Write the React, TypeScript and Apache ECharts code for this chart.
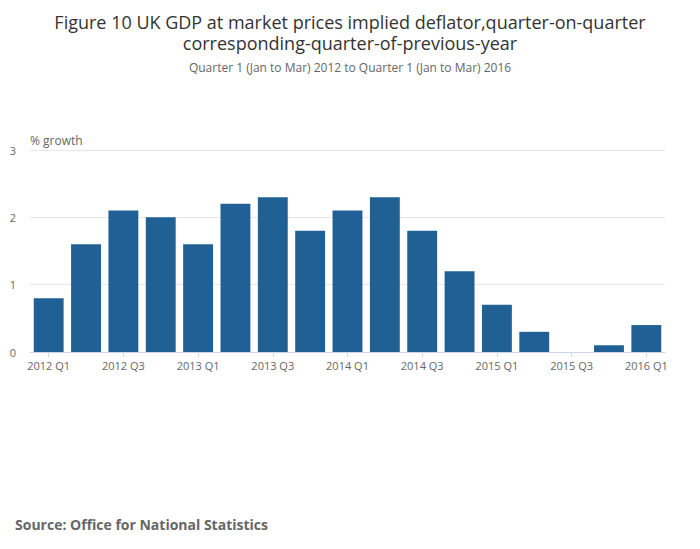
import React, { useEffect, useRef } from "react";
import * as echarts from "echarts";

const categories = [
  "2012 Q1", "2012 Q2", "2012 Q3", "2012 Q4",
  "2013 Q1", "2013 Q2", "2013 Q3", "2013 Q4",
  "2014 Q1", "2014 Q2", "2014 Q3", "2014 Q4",
  "2015 Q1", "2015 Q2", "2015 Q3", "2015 Q4",
  "2016 Q1",
];
const values = [0.8, 1.6, 2.1, 2.0, 1.6, 2.2, 2.3, 1.8, 2.1, 2.3, 1.8, 1.2, 0.7, 0.3, 0, 0.1, 0.4];

const FONT = "'Open Sans', sans-serif";

export default function App() {
  const ref = useRef<HTMLDivElement>(null);

  useEffect(() => {
    if (!ref.current) return;
    const chart = echarts.init(ref.current, undefined, { renderer: "svg" });
    chart.setOption({
      animation: false,
      textStyle: { fontFamily: FONT },
      title: [
        {
          text: "Figure 10 UK GDP at market prices implied deflator,quarter-on-quarter\ncorresponding-quarter-of-previous-year",
          left: "center",
          top: 6,
          textStyle: { fontSize: 18, fontWeight: "normal", color: "#333", lineHeight: 21, fontFamily: FONT },
        },
        {
          text: "Quarter 1 (Jan to Mar) 2012 to Quarter 1 (Jan to Mar) 2016",
          left: "center",
          top: 56,
          textStyle: { fontSize: 12, fontWeight: "normal", color: "#666", fontFamily: FONT },
        },
        {
          text: "Source: Office for National Statistics",
          left: 10,
          top: 512,
          textStyle: { fontSize: 14, fontWeight: "bold", color: "#666", fontFamily: FONT },
        },
      ],
      grid: { left: 30, right: 35, top: 150, bottom: 197 },
      xAxis: {
        type: "category",
        data: categories,
        axisLine: { lineStyle: { color: "#ccd6eb" } },
        axisTick: { show: true, alignWithLabel: true, interval: 1, lineStyle: { color: "#ccd6eb" } },
        axisLabel: { interval: 1, color: "#666", fontSize: 11, margin: 8 },
      },
      yAxis: {
        type: "value",
        min: 0,
        max: 3,
        interval: 1,
        name: "% growth",
        nameLocation: "end",
        nameGap: 4,
        nameTextStyle: { align: "left", color: "#666", fontSize: 12 },
        axisLabel: { color: "#666", fontSize: 11, margin: 14 },
        splitLine: { lineStyle: { color: "#e6e6e6" } },
      },
      series: [
        {
          type: "bar",
          data: values,
          barCategoryGap: "20%",
          itemStyle: { color: "#206095" },
        },
      ],
    });
    return () => chart.dispose();
  }, []);

  return <div ref={ref} style={{ position: "absolute", left: 0, top: 0, width: 700, height: 549 }} />;
}
